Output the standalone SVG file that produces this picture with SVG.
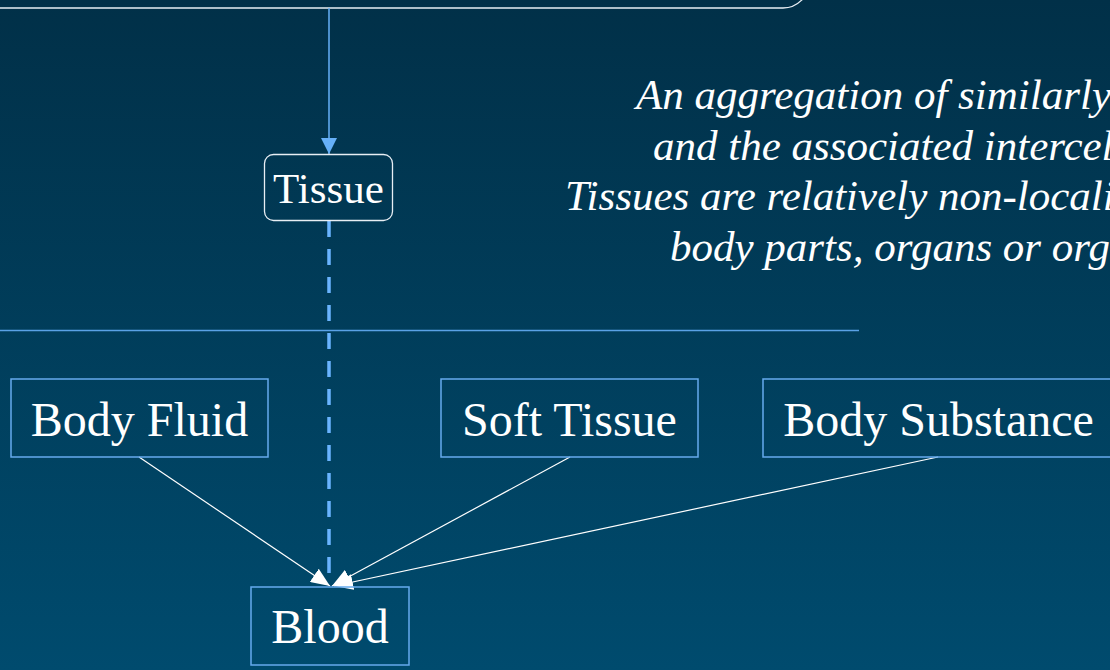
<svg xmlns="http://www.w3.org/2000/svg" width="1110" height="670" viewBox="0 0 1110 670">
<defs>
<linearGradient id="bg" x1="0" y1="0" x2="0" y2="1">
<stop offset="0" stop-color="#013048"/>
<stop offset="1" stop-color="#004b6e"/>
</linearGradient>
<marker id="blueHead" viewBox="0 0 16 16" refX="16" refY="8" markerWidth="16" markerHeight="16" markerUnits="userSpaceOnUse" orient="auto">
<path d="M0,0 L16,8 L0,16 Z" fill="#66b0f8"/>
</marker>
<marker id="whiteHead" viewBox="0 0 19 16" refX="19" refY="8" markerWidth="19" markerHeight="16" markerUnits="userSpaceOnUse" orient="auto">
<path d="M0,0 L19,8 L0,16 Z" fill="#ffffff"/>
</marker>
<style>
.box{fill:none;stroke:#66aaee;stroke-width:1.5}
.rbox{fill:none;stroke:#e8eef4;stroke-width:1.3}
.lbl{font-family:"Liberation Serif","Times New Roman",serif;fill:#ffffff;text-anchor:middle}
.big{font-size:48px}
.mid{font-size:43px}
.desc{font-family:"Liberation Serif","Times New Roman",serif;font-style:italic;font-size:43px;fill:#ffffff}
.white{stroke:#ffffff;stroke-width:1.2;fill:none}
</style>
</defs>
<rect x="0" y="0" width="1110" height="670" fill="url(#bg)"/>
<g id="parent-node">
<rect class="rbox" x="-30" y="-80" width="839" height="88" rx="26"/>
</g>
<line id="separator" x1="0" y1="330.5" x2="859" y2="330.5" stroke="#5aa2e6" stroke-width="1.5"/>
<g id="description">
<text class="desc" x="636" y="109">An aggregation of similarly</text>
<text class="desc" x="653" y="160">and the associated intercel</text>
<text class="desc" x="565" y="210">Tissues are relatively non-locali</text>
<text class="desc" x="670" y="261">body parts, organs or org</text>
</g>
<g id="connectors">
<line x1="329" y1="8" x2="329" y2="154" stroke="#66b0f8" stroke-width="1.5" marker-end="url(#blueHead)"/>
<line x1="329" y1="221" x2="329" y2="573" stroke="#6ab4ff" stroke-width="3.5" stroke-dasharray="16 12"/>
<line class="white" x1="139" y1="457" x2="330" y2="586" marker-end="url(#whiteHead)"/>
<line class="white" x1="570" y1="457" x2="332" y2="586" marker-end="url(#whiteHead)"/>
<line class="white" x1="938" y1="457" x2="334" y2="586" marker-end="url(#whiteHead)"/>
</g>
<g id="node-tissue">
<rect class="rbox" x="264.5" y="154.5" width="128" height="66" rx="9"/>
<text class="lbl mid" x="328.5" y="203">Tissue</text>
</g>
<g id="node-body-fluid">
<rect class="box" x="11" y="379" width="257" height="78"/>
<text class="lbl big" x="139.5" y="436">Body Fluid</text>
</g>
<g id="node-soft-tissue">
<rect class="box" x="441" y="379" width="257" height="78"/>
<text class="lbl big" x="569.5" y="436">Soft Tissue</text>
</g>
<g id="node-body-substance">
<rect class="box" x="763" y="379" width="360" height="78"/>
<text class="lbl big" x="938.5" y="436">Body Substance</text>
</g>
<g id="node-blood">
<rect class="box" x="251" y="587" width="158" height="78"/>
<text class="lbl big" x="330" y="643">Blood</text>
</g>
</svg>
